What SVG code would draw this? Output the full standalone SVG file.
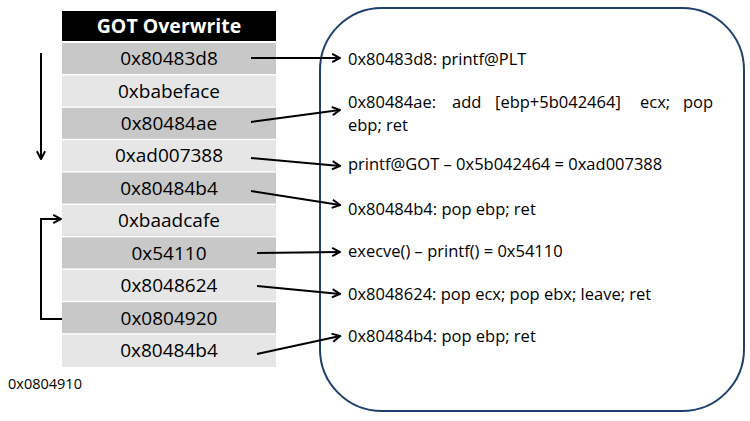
<svg xmlns="http://www.w3.org/2000/svg" width="750" height="421" viewBox="0 0 750 421">
<defs>
<marker id="ah" viewBox="0 0 12 12" refX="10.5" refY="6" markerWidth="11" markerHeight="11" orient="auto" markerUnits="userSpaceOnUse">
<path d="M2,1.5 L10.5,6 L2,10.5" fill="none" stroke="#000" stroke-width="2.2" stroke-linejoin="miter"/>
</marker>
<style>
.d{fill:#c8c8c8}
.l{fill:#e6e6e6}
.t{font-family:"Open Sans","Noto Sans","DejaVu Sans",sans-serif;font-size:19px;fill:#000;text-anchor:middle}
.r{font-family:"Open Sans","Noto Sans","DejaVu Sans",sans-serif;font-size:16.5px;fill:#000}
.c{stroke:#000;stroke-width:2;fill:none;marker-end:url(#ah)}
</style>
</defs>
<rect width="750" height="421" fill="#fff"/>
<g id="table">
<rect x="62" y="11" width="214" height="30" fill="#000"/>
<text x="169" y="33" class="t" style="fill:#fff;font-weight:bold;font-size:19.5px">GOT Overwrite</text>
<rect class="d" x="62" y="43" width="214" height="31"/>
<rect class="l" x="62" y="75.4" width="214" height="31"/>
<rect class="d" x="62" y="107.8" width="214" height="31"/>
<rect class="l" x="62" y="140.2" width="214" height="31"/>
<rect class="d" x="62" y="172.6" width="214" height="31"/>
<rect class="l" x="62" y="205" width="214" height="31"/>
<rect class="d" x="62" y="237.4" width="214" height="31"/>
<rect class="l" x="62" y="269.8" width="214" height="31"/>
<rect class="d" x="62" y="302.2" width="214" height="31"/>
<rect class="l" x="62" y="334.6" width="214" height="32.4"/>
<text class="t" x="169" y="65">0x80483d8</text>
<text class="t" x="169" y="98">0xbabeface</text>
<text class="t" x="169" y="130">0x80484ae</text>
<text class="t" x="169" y="162">0xad007388</text>
<text class="t" x="169" y="195">0x80484b4</text>
<text class="t" x="169" y="227">0xbaadcafe</text>
<text class="t" x="169" y="260">0x54110</text>
<text class="t" x="169" y="292">0x8048624</text>
<text class="t" x="169" y="325">0x0804920</text>
<text class="t" x="169" y="357">0x80484b4</text>
</g>
<g id="box">
<rect x="320" y="8" width="424" height="403" rx="62" ry="62" fill="none" stroke="#1f3f6e" stroke-width="2"/>
<text class="r" x="348" y="65">0x80483d8: printf@PLT</text>
<text class="r" y="108"><tspan x="348">0x80484ae:</tspan><tspan x="452">add</tspan><tspan x="495">[ebp+5b042464]</tspan><tspan x="640">ecx;</tspan><tspan x="683">pop</tspan></text>
<text class="r" x="348" y="131">ebp; ret</text>
<text class="r" x="348" y="170">printf@GOT – 0x5b042464 = 0xad007388</text>
<text class="r" x="348" y="215">0x80484b4: pop ebp; ret</text>
<text class="r" x="348" y="257">execve() – printf() = 0x54110</text>
<text class="r" x="348" y="300">0x8048624: pop ecx; pop ebx; leave; ret</text>
<text class="r" x="348" y="342">0x80484b4: pop ebp; ret</text>
</g>
<g id="label">
<text x="8" y="389" style="font-family:'Open Sans','Noto Sans',sans-serif;font-size:14.5px;fill:#000">0x0804910</text>
</g>
<g id="connectors">
<line class="c" x1="251" y1="58" x2="340" y2="58"/>
<line class="c" x1="251" y1="122" x2="340" y2="110"/>
<line class="c" x1="251" y1="158" x2="340" y2="166"/>
<line class="c" x1="251" y1="191" x2="340" y2="205"/>
<line class="c" x1="257" y1="253" x2="340" y2="252"/>
<line class="c" x1="257" y1="286" x2="340" y2="294"/>
<line class="c" x1="257" y1="354" x2="340" y2="336"/>
<line class="c" x1="41" y1="53" x2="41" y2="159"/>
<polyline class="c" points="62,319 41,319 41,219 61,219"/>
</g>
</svg>
